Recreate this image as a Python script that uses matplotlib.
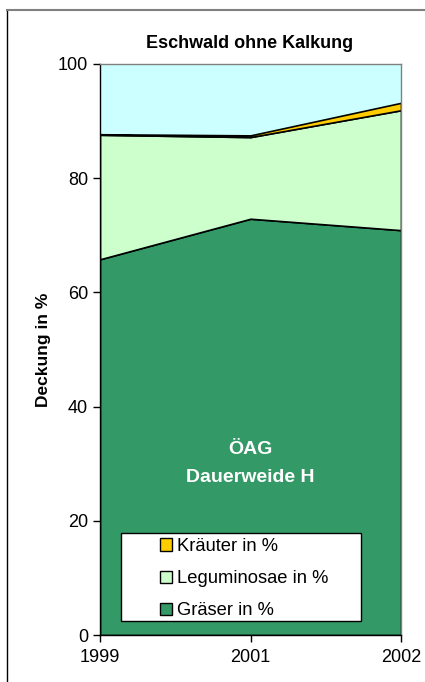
import matplotlib.pyplot as plt
from matplotlib.patches import Patch, Rectangle
from matplotlib.lines import Line2D

plt.rcParams['font.family'] = ['Liberation Sans', 'DejaVu Sans']

years = ['1999', '2001', '2002']
graeser = [65.8, 72.9, 70.9]
leguminosae = [21.8, 14.3, 21.0]
kraeuter = [0.1, 0.3, 1.3]

c_gras = '#339966'
c_legu = '#CCFFCC'
c_kraut = '#FFCC00'
c_bg = '#CCFFFF'

fig = plt.figure(figsize=(4.25, 6.82), dpi=100)
ax = fig.add_axes([100/425, 1 - 635/682, 301/425, 571/682])
ax.set_facecolor(c_bg)

x = range(len(years))
ax.stackplot(x, graeser, leguminosae, kraeuter,
             colors=[c_gras, c_legu, c_kraut],
             edgecolor='black', linewidth=1.2)

ax.set_xlim(0, 2)
ax.set_ylim(0, 100)
ax.set_xticks(list(x))
ax.set_xticklabels(years)
ax.set_yticks(range(0, 101, 20))
ax.tick_params(axis='both', direction='out', length=5, width=1,
               labelsize=13, colors='black')
ax.tick_params(axis='x', pad=5)

for s in ['top', 'right']:
    ax.spines[s].set_color('#808080')
for s in ['left', 'bottom']:
    ax.spines[s].set_color('black')
for s in ax.spines.values():
    s.set_linewidth(1)
ax.spines['top'].set_zorder(5)

ax.set_ylabel('Deckung in %', fontsize=12.5, fontweight='bold', labelpad=5)
fig.text(250/425, 1 - 43/682, 'Eschwald ohne Kalkung', ha='center',
         va='center', fontsize=13, fontweight='bold')

ax.text(1, 30, 'ÖAG\nDauerweide H', ha='center', va='center',
        color='white', fontsize=14, fontweight='bold', linespacing=1.85)

# legend box
ax.add_patch(Rectangle((21/301, 14/571), 240/301, 88/571,
                       transform=ax.transAxes, facecolor='white',
                       edgecolor='black', linewidth=1, zorder=4))
handles = [Patch(facecolor=c_kraut, edgecolor='black', linewidth=1),
           Patch(facecolor=c_legu, edgecolor='black', linewidth=1),
           Patch(facecolor=c_gras, edgecolor='black', linewidth=1)]
labels = ['Kräuter in %', 'Leguminosae in %', 'Gräser in %']
leg = ax.legend(handles, labels, loc='upper left',
                bbox_to_anchor=(60/301, (635 - 538)/571),
                frameon=False, fontsize=13.2, handlelength=0.65,
                handleheight=0.65, handletextpad=0.3, labelspacing=0.83,
                borderpad=0, borderaxespad=0)
leg.set_zorder(6)

# chart frame
fig.add_artist(Line2D([7/425, 7/425], [0, 1 - 10/682], color='black',
                      linewidth=1))
fig.add_artist(Line2D([7/425, 1], [1 - 10/682, 1 - 10/682],
                      color='#808080', linewidth=1.5))

fig.savefig('out.png', dpi=100)
